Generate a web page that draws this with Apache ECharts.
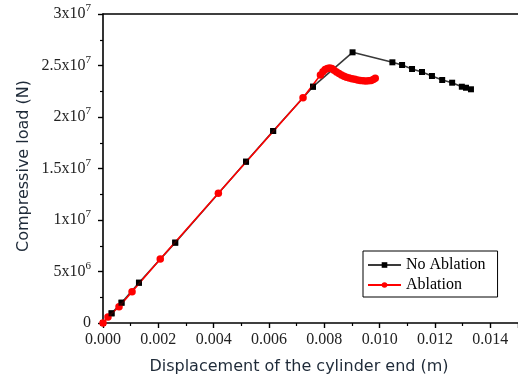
<!DOCTYPE html>
<html>
<head>
<meta charset="utf-8">
<script src="https://cdn.jsdelivr.net/npm/echarts@6/dist/echarts.min.js"></script>
<style>
  html, body { margin: 0; padding: 0; background: #fff; }
  #chart { width: 518px; height: 383px; }
</style>
</head>
<body>
<div id="chart"></div>
<script>
// displacement (m) / compressive load (N)
const noAblationX = [0, 0.00031, 0.00067, 0.00130, 0.00261, 0.00517, 0.00615, 0.00759, 0.00902,
  0.01046, 0.01081, 0.01117, 0.01153, 0.01189, 0.01226, 0.01262, 0.01297, 0.01312, 0.01330];
const noAblationY = [0, 0.94e6, 1.97e6, 3.91e6, 7.80e6, 15.66e6, 18.64e6, 22.94e6, 26.28e6,
  25.31e6, 25.05e6, 24.66e6, 24.37e6, 23.98e6, 23.59e6, 23.33e6, 22.94e6, 22.84e6, 22.69e6];

const ablationX = [0, 0.00018, 0.00058, 0.00105, 0.00207, 0.00417, 0.00723,
  0.00786, 0.00795, 0.00803, 0.00811, 0.00819, 0.00827, 0.00835, 0.00844, 0.00853, 0.00862,
  0.00871, 0.00880, 0.00890, 0.00900, 0.00910, 0.00920, 0.00930, 0.00940, 0.00950, 0.00960,
  0.00969, 0.00977, 0.00984];
const ablationY = [0, 0.58e6, 1.58e6, 3.04e6, 6.21e6, 12.59e6, 21.87e6,
  24.08e6, 24.40e6, 24.60e6, 24.72e6, 24.76e6, 24.70e6, 24.55e6, 24.38e6, 24.22e6, 24.08e6,
  23.96e6, 23.87e6, 23.79e6, 23.72e6, 23.66e6, 23.60e6, 23.55e6, 23.52e6, 23.50e6, 23.51e6,
  23.55e6, 23.63e6, 23.76e6];

const seriesNames = ['No Ablation', 'Ablation'];
const xTickStep = 0.002;
const yTickStep = 5e6;
const yTickLabels = ['0', '5x10|6', '1x10|7', '1.5x10|7', '2x10|7', '2.5x10|7', '3x10|7'];
const xTitle = 'Displacement of the cylinder end (m)';
const yTitle = 'Compressive load (N)';

const zip = (xs, ys) => xs.map((x, i) => [x, ys[i]]);
const serif = '"Liberation Serif", "Times New Roman", serif';
const sans = '"DejaVu Sans", Verdana, sans-serif';

const chart = echarts.init(document.getElementById('chart'), null, { renderer: 'canvas' });

chart.setOption({
  animation: false,
  grid: { left: 103, top: 14, width: 418, height: 309 },
  legend: {
    data: seriesNames,
    orient: 'vertical',
    left: 363,
    top: 251,
    borderColor: '#000',
    borderWidth: 1,
    padding: [6, 12, 4, 4],
    itemWidth: 33,
    itemHeight: 7,
    itemGap: 4,
    textStyle: { fontFamily: serif, fontSize: 16, color: '#000' },
  },
  xAxis: [{
    type: 'value',
    min: 0,
    max: 0.015,
    interval: xTickStep,
    axisLine: { lineStyle: { color: '#000', width: 1.6 } },
    axisTick: { length: 5, lineStyle: { color: '#000', width: 1.4 } },
    minorTick: { show: true, splitNumber: 2, length: 3, lineStyle: { color: '#000', width: 1.2 } },
    splitLine: { show: false },
    axisLabel: {
      margin: 9,
      showMaxLabel: false,
      fontFamily: serif,
      fontSize: 16,
      color: '#222',
      formatter: v => (Math.abs(v / xTickStep - Math.round(v / xTickStep)) < 1e-6 ? v.toFixed(3) : ''),
    },
  }, {
    type: 'value',
    position: 'top',
    min: 0,
    max: 0.015,
    axisLine: { onZero: false, lineStyle: { color: '#000', width: 1.6 } },
    axisTick: { show: false },
    axisLabel: { show: false },
    splitLine: { show: false },
  }],
  yAxis: {
    type: 'value',
    min: 0,
    max: 3e7,
    interval: yTickStep,
    axisLine: { show: true, lineStyle: { color: '#000', width: 1.6 } },
    axisTick: { show: true, length: 5, lineStyle: { color: '#000', width: 1.4 } },
    minorTick: { show: true, splitNumber: 2, length: 3, lineStyle: { color: '#000', width: 1.2 } },
    splitLine: { show: false },
    axisLabel: {
      margin: 12,
      formatter: v => {
        const parts = yTickLabels[Math.round(v / yTickStep)].split('|');
        return parts.length > 1 ? `{b|${parts[0]}}{s|${parts[1]}}` : `{b|${parts[0]}}`;
      },
      rich: {
        b: { fontFamily: serif, fontSize: 16, color: '#222', lineHeight: 22 },
        s: { fontFamily: serif, fontSize: 11, color: '#222', lineHeight: 11, verticalAlign: 'top' },
      },
    },
  },
  graphic: [{
    type: 'text',
    x: 299, y: 367,
    style: { text: xTitle, font: `16px ${sans}`, fill: '#1e2a38', align: 'center', verticalAlign: 'middle' },
  }, {
    type: 'text',
    x: 24, y: 166,
    rotation: Math.PI / 2,
    style: { text: yTitle, font: `16px ${sans}`, fill: '#1e2a38', align: 'center', verticalAlign: 'middle' },
  }],
  series: [{
    name: seriesNames[0],
    type: 'line',
    z: 2,
    data: zip(noAblationX, noAblationY),
    symbol: 'rect',
    symbolSize: 6,
    showAllSymbol: true,
    itemStyle: { color: '#000' },
    lineStyle: { color: '#3a3a3a', width: 1.6 },
  }, {
    name: seriesNames[1],
    type: 'line',
    z: 3,
    data: zip(ablationX, ablationY),
    symbol: 'circle',
    symbolSize: 7.5,
    showAllSymbol: true,
    itemStyle: { color: '#ff0000' },
    lineStyle: { color: '#ff0000', width: 1.6 },
  }, {
    // black markers stay visible on top of the red line where both curves coincide
    name: 'No Ablation markers',
    type: 'scatter',
    z: 4,
    silent: true,
    data: zip(noAblationX, noAblationY).slice(1, 8),
    symbol: 'rect',
    symbolSize: 6,
    itemStyle: { color: '#000' },
  }],
});
</script>
</body>
</html>
